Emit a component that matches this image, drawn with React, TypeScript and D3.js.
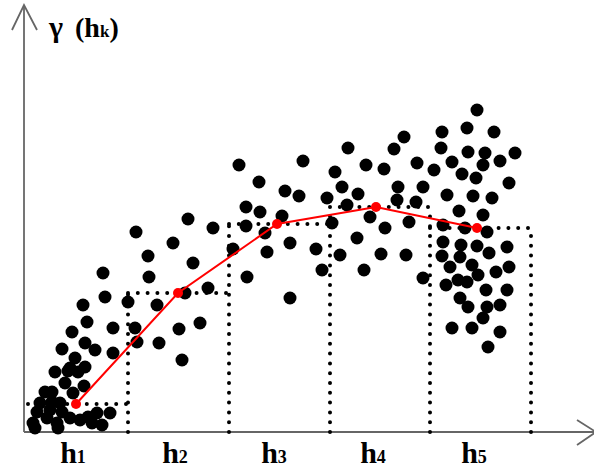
import React from 'react'
import * as d3 from 'd3'

// lag bins (lag units) and the experimental semivariogram per bin
const binEdges = [0, 100, 201, 302, 402, 503]
const binGamma = [28, 139, 208, 225, 204]
const binLag = [48, 150, 249, 348, 449]
const binLabels = ['1', '2', '3', '4', '5']

// pair clouds [lag, gamma]
const pairsNear = [
  [27, 60], [40, 61], [50, 60], [37, 49], [17, 40], [24, 40], [45, 39], [56, 46],
  [12, 29], [24, 30], [32, 29], [9, 20], [22, 22], [34, 20], [5, 9], [19, 14],
  [29, 9], [42, 14], [52, 12], [60, 15], [69, 19], [82, 19], [64, 9], [74, 7],
  [30, 4], [7, 4],
]

const pairsRising = [
  [75, 159], [121, 155], [77, 135], [55, 127], [100, 130], [129, 127], [59, 110],
  [44, 100], [85, 104], [107, 104], [151, 103], [172, 109], [57, 89], [67, 82],
  [34, 83], [85, 79], [109, 90], [131, 89], [154, 72], [47, 74], [42, 64], [57, 65],
  [120, 176], [165, 169], [160, 213], [185, 204], [108, 200], [145, 189], [205, 183],
  [211, 267], [180, 144], [157, 139],
]

const pairsMiddle = [
  [320, 284], [275, 271], [338, 267], [356, 263], [366, 283], [376, 295], [307, 260],
  [231, 250], [314, 245], [370, 245], [257, 241], [271, 236], [299, 234], [330, 238],
  [319, 227], [218, 225], [232, 220], [369, 232], [254, 216], [218, 206], [304, 209],
  [342, 215], [357, 204], [237, 199], [329, 194], [262, 189], [239, 180], [288, 183],
  [312, 177], [353, 178], [294, 162], [336, 162], [219, 155], [262, 134], [389, 269],
]

const pairsFar = [
  [449, 322], [439, 304], [414, 300], [466, 300], [413, 284], [440, 280], [457, 279],
  [487, 279], [472, 271], [455, 267], [424, 270], [406, 262], [434, 258], [448, 254],
  [481, 249], [395, 245], [419, 237], [445, 236], [464, 234], [388, 230], [431, 221],
  [455, 217], [381, 210], [415, 207], [437, 204], [459, 200], [415, 190], [433, 187],
  [449, 186], [479, 185], [378, 177], [414, 176], [432, 175], [461, 179], [422, 165],
  [444, 167], [481, 165], [395, 154], [450, 157], [468, 160], [430, 152], [439, 150],
  [418, 147], [458, 142], [479, 142], [432, 134], [440, 125], [459, 125], [472, 127],
  [455, 114], [424, 104], [444, 104], [472, 100], [460, 85],
]

const W = 594
const H = 472

const App = () => {
  const x = d3.scaleLinear().domain([0, 500]).range([28, 528])
  const y = d3.scaleLinear().domain([0, 400]).range([432, 32])

  const allPairs = [...pairsNear, ...pairsRising, ...pairsMiddle, ...pairsFar]
  const semi = binLag.map((l, i) => [l, binGamma[i]] as [number, number])
  const line = d3
    .line<[number, number]>()
    .x((d) => x(d[0]))
    .y((d) => y(d[1]))

  const x0 = x(-4)
  const y0 = y(0)
  const yTop = y(427)
  const xEnd = x(568)

  // dotted bin outlines
  const dotted: [number, number, number, number][] = []
  binGamma.forEach((g, i) => {
    dotted.push([x(binEdges[i]), y(g), x(binEdges[i + 1]), y(g)])
  })
  for (let i = 1; i < binEdges.length; i++) {
    const top = i < binGamma.length ? Math.max(binGamma[i - 1], binGamma[i]) : binGamma[i - 1]
    dotted.push([x(binEdges[i]), y(0), x(binEdges[i]), y(top)])
  }

  const axisColor = '#666'
  const serif = "'Liberation Serif', 'Times New Roman', serif"

  return (
    <svg width={W} height={H} style={{ position: 'absolute', left: 0, top: 0, background: '#fff' }}>
      {/* axes */}
      <line x1={x0} y1={y0} x2={x0} y2={yTop} stroke={axisColor} strokeWidth={1.8} />
      <path d={`M${x0 - 12},${yTop + 25} L${x0},${yTop} L${x0 + 13},${yTop + 25}`} fill="none" stroke={axisColor} strokeWidth={1.8} />
      <line x1={x0} y1={y0} x2={xEnd} y2={y0} stroke={axisColor} strokeWidth={1.8} />
      <path d={`M${xEnd - 19},${y0 - 12} L${xEnd},${y0} L${xEnd - 19},${y0 + 13}`} fill="none" stroke={axisColor} strokeWidth={1.8} />

      {/* bins */}
      {dotted.map((d, i) => (
        <line key={'b' + i} x1={d[0]} y1={d[1]} x2={d[2]} y2={d[3]} stroke="#000" strokeWidth={4}
          strokeLinecap="round" strokeDasharray="0 9.8" />
      ))}

      {/* pair cloud */}
      {allPairs.map((p, i) => (
        <circle key={'p' + i} cx={x(p[0])} cy={y(p[1])} r={6.5} fill="#000" />
      ))}

      {/* experimental semivariogram */}
      <path d={line(semi) || ''} fill="none" stroke="#f00" strokeWidth={2} />
      {semi.map((p, i) => (
        <circle key={'s' + i} cx={x(p[0])} cy={y(p[1])} r={5} fill="#f00" />
      ))}

      {/* lag labels */}
      {binLag.map((l, i) => (
        <text key={'l' + i} x={x(l) - 3} y={463} textAnchor="middle" fontFamily={serif} fontWeight="bold" fontSize={30}>
          h<tspan fontSize={18}>{binLabels[i]}</tspan>
        </text>
      ))}

      {/* y title */}
      <text y={37} fontFamily={serif} fontSize={28}>
        <tspan x={49} fontSize={30} fontWeight="bold">γ</tspan>
        <tspan x={75} fontWeight="bold">(h</tspan>
        <tspan fontWeight="bold" fontSize={17}>k</tspan>
        <tspan fontWeight="bold">)</tspan>
      </text>
    </svg>
  )
}

export default App
